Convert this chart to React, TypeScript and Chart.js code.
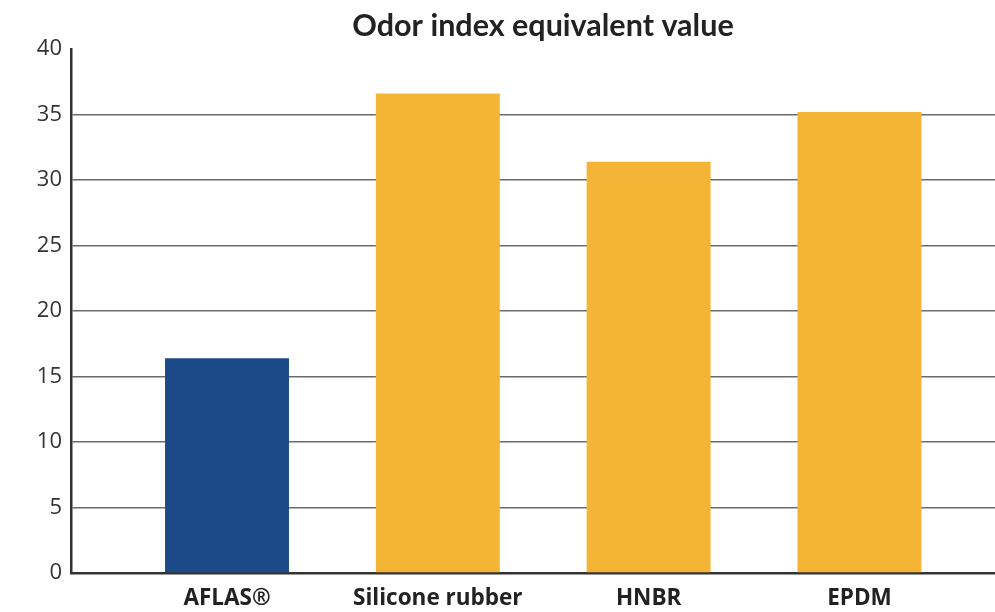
import React, { useEffect, useRef } from "react";
import { Chart, registerables } from "chart.js";

Chart.register(...registerables);

const TITLE = "Odor index equivalent value";
const categories = ["AFLAS®", "Silicone rubber", "HNBR", "EPDM"];
const values = [16.4, 36.6, 31.4, 35.2];
const barColors = ["#1c4a89", "#f4b536", "#f4b536", "#f4b536"];
const yTicks = [0, 5, 10, 15, 20, 25, 30, 35, 40];

const titlePlugin = {
  id: "customTitle",
  afterDraw(chart: any) {
    const { ctx, chartArea } = chart;
    ctx.save();
    ctx.font = "bold 30.5px Lato";
    ctx.fillStyle = "#222";
    ctx.textAlign = "center";
    ctx.textBaseline = "middle";
    ctx.fillText(TITLE, (chartArea.left + chartArea.right) / 2 + 10, 26);
    ctx.restore();
  },
};

export default function App() {
  const ref = useRef<HTMLCanvasElement | null>(null);

  useEffect(() => {
    if (!ref.current) return;
    const chart = new Chart(ref.current, {
      type: "bar",
      data: {
        datasets: [
          {
            data: values.map((v, i) => ({ x: i, y: v })),
            backgroundColor: barColors,
            borderWidth: 0,
            barPercentage: 0.588,
            categoryPercentage: 1,
          },
        ],
      },
      plugins: [titlePlugin],
      options: {
        animation: false,
        responsive: false,
        maintainAspectRatio: false,
        layout: { padding: { top: 49, right: 0, left: 0, bottom: 0 } },
        plugins: {
          legend: { display: false },
          title: { display: false },
          tooltip: { enabled: false },
        },
        scales: {
          x: {
            type: "linear",
            offset: false,
            min: -0.74,
            max: 3.643,
            afterBuildTicks: (scale: any) => {
              scale.ticks = categories.map((_, i) => ({ value: i }));
            },
            afterFit: (scale: any) => {
              scale.height = 39;
            },
            ticks: {
              autoSkip: false,
              maxRotation: 0,
              padding: 12,
              color: "#222",
              font: { family: "Open Sans", size: 22.5, weight: "bold" },
              callback: (v: any) => categories[v] ?? "",
            },
            grid: { display: false, drawTicks: false, offset: false },
            border: { display: true, color: "#333", width: 2.5 },
          },
          y: {
            min: 0,
            max: 40,
            afterBuildTicks: (scale: any) => {
              scale.ticks = yTicks.map((v) => ({ value: v }));
            },
            afterFit: (scale: any) => {
              scale.width = 71;
            },
            ticks: {
              padding: 9,
              color: "#333",
              font: { family: "Open Sans", size: 22 },
            },
            grid: {
              drawTicks: false,
              color: (c: any) => (c.tick && c.tick.value === 40 ? "rgba(0,0,0,0)" : "#6b6b6b"),
              lineWidth: 1.5,
            },
            border: { display: true, color: "#333", width: 2.5 },
          },
        },
      },
    });
    return () => chart.destroy();
  }, []);

  return (
    <div style={{ position: "fixed", left: 0, top: 0, width: 995, height: 612, background: "#fff" }}>
      <canvas ref={ref} width={995} height={612} style={{ width: 995, height: 612 }} />
    </div>
  );
}
